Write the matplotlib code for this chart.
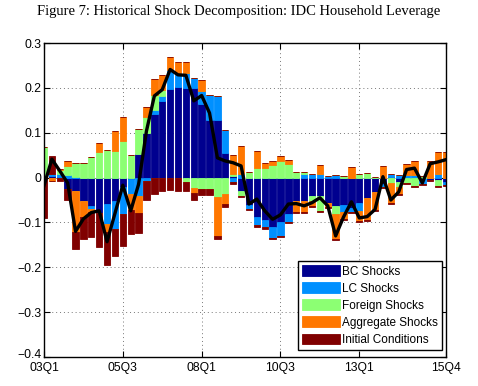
import numpy as np
import matplotlib
matplotlib.use('Agg')
import matplotlib.pyplot as plt
from matplotlib.transforms import ScaledTranslation

# --- Data (quarters 03Q1 .. 15Q4) ---
quarters = np.arange(1, 53)
tick_pos = [1, 11, 21, 31, 41, 52]
tick_labels = ['03Q1', '05Q3', '08Q1', '10Q3', '13Q1', '15Q4']

bc_shocks = [0.0, 0.003, 0.002, -0.026, -0.030, -0.052, -0.063, -0.079, -0.059, -0.052,
             -0.022, -0.004, 0.052, 0.100, 0.142, 0.171, 0.198, 0.201, 0.200, 0.200,
             0.164, 0.129, 0.129, 0.055, 0.003, -0.030, -0.061, -0.087, -0.095, -0.110,
             -0.100, -0.082, -0.052, -0.052, -0.040, -0.041, -0.056, -0.063, -0.062, -0.067,
             -0.056, -0.045, -0.033, -0.015, 0.002, -0.009, 0.0, 0.0, -0.002, -0.005,
             -0.006, -0.010]
lc_shocks = [0.0, 0.006, 0.006, 0.006, 0.002, 0.0, -0.006, 0.0, -0.044, -0.063,
             -0.060, -0.033, -0.042, -0.008, 0.008, 0.010, 0.042, 0.032, 0.033, 0.022,
             0.028, 0.054, 0.052, 0.050, -0.010, 0.007, -0.009, -0.019, -0.016, -0.024,
             -0.030, -0.016, 0.0, 0.008, 0.008, 0.007, 0.004, 0.005, -0.015, -0.010,
             -0.018, 0.0, 0.0, -0.006, 0.006, 0.005, 0.005, 0.006, -0.012, 0.0,
             0.008, -0.007]
foreign_shocks = [0.068, 0.0, 0.008, 0.020, 0.030, 0.033, 0.046, 0.057, 0.061, 0.059,
                  0.081, 0.050, 0.056, 0.036, 0.035, 0.015, 0.0, 0.0, -0.009, -0.024,
                  -0.026, -0.026, -0.043, -0.037, 0.005, -0.011, 0.012, 0.022, 0.021, 0.028,
                  0.036, 0.030, 0.013, 0.004, -0.012, -0.033, 0.0, -0.019, 0.004, 0.0,
                  0.008, 0.010, 0.002, 0.0, -0.012, -0.013, -0.012, -0.019, 0.004, 0.0,
                  -0.012, 0.0]
aggregate_shocks = [0.0, -0.007, 0.002, 0.011, -0.091, -0.035, -0.007, 0.021, -0.019, 0.044,
                    0.053, -0.035, -0.036, 0.022, 0.034, 0.033, 0.028, 0.024, 0.024, -0.010,
                    0.026, 0.0, -0.087, -0.022, 0.042, 0.063, 0.0, 0.037, 0.011, 0.009,
                    0.011, 0.009, -0.024, -0.025, -0.012, 0.022, -0.010, -0.055, -0.015, 0.024,
                    -0.022, -0.050, -0.040, 0.025, -0.044, -0.015, 0.026, 0.031, 0.0, 0.036,
                    0.049, 0.058]
initial_conditions = [-0.090, 0.040, -0.007, -0.024, -0.039, -0.050, -0.057, -0.076, -0.074, -0.059,
                      -0.070, -0.053, -0.046, -0.042, -0.037, -0.031, -0.028, -0.031, -0.021, -0.015,
                      -0.013, -0.013, -0.007, -0.006, -0.005, -0.002, -0.002, -0.004, -0.003, -0.003,
                      -0.003, -0.003, -0.002, -0.002, -0.002, -0.002, -0.002, -0.002, -0.002, -0.002,
                      -0.002, -0.002, -0.002, -0.002, -0.002, -0.002, -0.002, -0.002, -0.003, -0.002,
                      -0.002, -0.001]
household_leverage = [-0.018, 0.041, 0.015, -0.012, -0.120, -0.092, -0.078, -0.074, -0.143, -0.080,
                      -0.017, -0.074, -0.015, 0.104, 0.182, 0.196, 0.241, 0.229, 0.228, 0.171,
                      0.183, 0.144, 0.044, 0.037, 0.033, 0.026, -0.059, -0.048, -0.074, -0.093,
                      -0.083, -0.059, -0.058, -0.063, -0.056, -0.045, -0.063, -0.130, -0.088, -0.054,
                      -0.090, -0.087, -0.071, 0.002, -0.050, -0.032, 0.018, 0.021, -0.012, 0.031,
                      0.035, 0.040]

series = [
    (bc_shocks, 'BC Shocks', '#00008F'),
    (lc_shocks, 'LC Shocks', '#0090FF'),
    (foreign_shocks, 'Foreign Shocks', '#8CFF73'),
    (aggregate_shocks, 'Aggregate Shocks', '#FF7700'),
    (initial_conditions, 'Initial Conditions', '#800000'),
]

fig = plt.figure(figsize=(4.78, 3.86), dpi=100)
ax = fig.add_axes([44 / 478, 1 - 357 / 386, 402 / 478, 314 / 386])

# positive parts stack upwards, negative parts downwards
pos_base = np.zeros(len(quarters))
neg_base = np.zeros(len(quarters))
handles = []
for vals, label, color in series:
    v = np.array(vals)
    pos = np.where(v > 0, v, 0.0)
    neg = np.where(v < 0, v, 0.0)
    h = ax.bar(quarters, pos, bottom=pos_base, width=0.8, color=color,
               edgecolor=color, linewidth=0.6, label=label, zorder=2)
    ax.bar(quarters, neg, bottom=neg_base, width=0.8, color=color,
           edgecolor=color, linewidth=0.6, zorder=2)
    handles.append(h)
    pos_base += pos
    neg_base += neg

ax.plot(quarters, household_leverage, color='black', linewidth=2.4, zorder=3)

ax.set_xlim(1, 52)
ax.set_ylim(-0.4, 0.3)
ax.set_xticks(tick_pos)
ax.set_xticklabels(tick_labels)
ax.set_yticks(np.arange(-0.4, 0.31, 0.1))
ax.set_yticklabels(['\u22120.4', '\u22120.3', '\u22120.2', '\u22120.1', '0', '0.1', '0.2', '0.3'])
ax.tick_params(direction='in', top=True, right=True, length=4, width=0.8,
               labelsize=8.7)
ax.tick_params(axis='y', pad=2)
ax.tick_params(axis='x', pad=3.5)
for lab in ax.get_xticklabels() + ax.get_yticklabels():
    lab.set_family('Liberation Sans')
# the bottom y label sits just above the first x label, as in the original
low = ax.get_yticklabels()[0]
low.set_transform(low.get_transform() + ScaledTranslation(0, 3 / 100, fig.dpi_scale_trans))

ax.grid(True, linestyle=(0, (1, 3)), color='#777777', linewidth=0.7, zorder=0)
ax.set_axisbelow(True)
for sp in ax.spines.values():
    sp.set_linewidth(1.0)

leg = ax.legend(handles=handles, loc='lower right',
                bbox_to_anchor=(442 / 478, (386 - 350) / 386),
                bbox_transform=fig.transFigure, borderaxespad=0,
                frameon=True, fancybox=False,
                edgecolor='black', framealpha=1, handlelength=3.2, handleheight=1.0,
                labelspacing=0.4, borderpad=0.35, handletextpad=0.2,
                prop={'family': 'Liberation Sans', 'size': 8.5})
leg.get_frame().set_linewidth(1.0)

fig.text(0.5, 1 - 12 / 386, 'Figure 7: Historical Shock Decomposition: IDC Household Leverage',
         ha='center', va='center', family='Liberation Serif', fontsize=10.5)

fig.savefig('out.png', dpi=100)
